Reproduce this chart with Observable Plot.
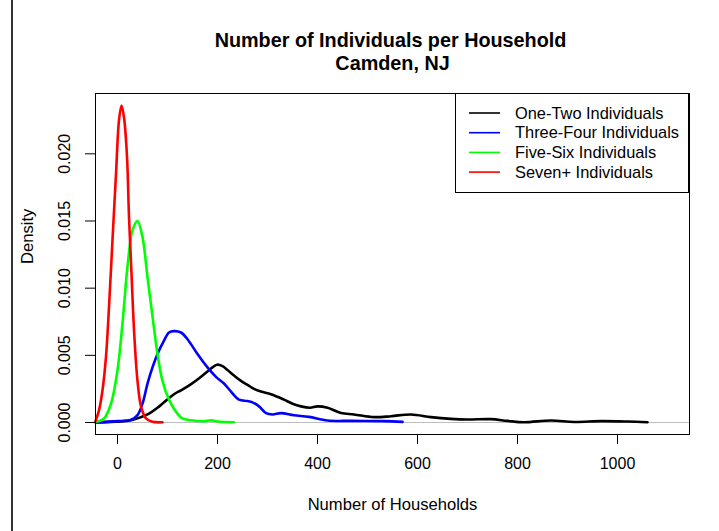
<!DOCTYPE html>
<html>
<head>
<meta charset="utf-8">
<script src="https://cdn.jsdelivr.net/npm/d3@7"></script>
<script src="https://cdn.jsdelivr.net/npm/@observablehq/plot@0.6"></script>
<style>
  html, body { margin: 0; padding: 0; background: #fff; }
  #wrap { position: relative; width: 719px; height: 531px; overflow: hidden; }
  #edge { position: absolute; left: 11px; top: 0; width: 2px; height: 531px; background: #333; }
</style>
</head>
<body>
<div id="wrap"><div id="edge"></div></div>
<script>
// ---- data ----
const seriesNames = ["One-Two Individuals", "Three-Four Individuals", "Five-Six Individuals", "Seven+ Individuals"];
const seriesColors = ["#000000", "#0000ff", "#00ff00", "#ff0000"];

const oneTwoX = [-44, -13, 13, 27, 47, 60, 80, 93, 113, 127, 145, 160, 180, 199, 210, 220, 233, 247, 260, 273, 287, 307, 333, 350, 367, 385, 400, 420, 447, 473, 513, 547, 587, 627, 667, 700, 747, 780, 813, 867, 913, 967, 1020, 1060];
const oneTwoY = [0, 0.00005, 0.0001, 0.00017, 0.0004, 0.0006, 0.0011, 0.0015, 0.0021, 0.0024, 0.0028, 0.0032, 0.0038, 0.0043, 0.0042, 0.0039, 0.0035, 0.0031, 0.0028, 0.0025, 0.0023, 0.0021, 0.0017, 0.0014, 0.0012, 0.0011, 0.0012, 0.0011, 0.0007, 0.0006, 0.0004, 0.00047, 0.0006, 0.0004, 0.00027, 0.00022, 0.00025, 0.00012, 0.00002, 0.00015, 0.00004, 0.0001, 0.00007, 0.00002];

const threeFourX = [-40, 0, 27, 40, 50, 60, 70, 80, 93, 103, 113, 127, 140, 160, 180, 197, 213, 227, 243, 260, 270, 283, 297, 310, 327, 353, 383, 420, 467, 533, 570];
const threeFourY = [0, 0.0001, 0.0002, 0.00055, 0.0014, 0.0029, 0.0041, 0.0051, 0.0061, 0.0067, 0.0068, 0.0067, 0.0062, 0.0051, 0.0041, 0.0034, 0.0029, 0.0023, 0.0017, 0.0016, 0.0015, 0.0012, 0.0007, 0.0006, 0.0007, 0.00054, 0.00042, 0.00015, 0.00012, 0.0001, 0.00005];

const fiveSixX = [-44, -27, -13, 0, 10, 20, 30, 40, 50, 60, 70, 80, 90, 103, 117, 130, 147, 173, 187, 200, 233];
const fiveSixY = [0.00005, 0.0003, 0.0014, 0.0039, 0.0074, 0.0116, 0.0143, 0.0150, 0.0138, 0.0108, 0.0079, 0.0051, 0.0031, 0.0017, 0.0008, 0.0003, 0.00017, 0.0001, 0.00017, 0.00007, 0.00002];

const sevenX = [-44, -37, -30, -23, -17, -10, -3, 3, 8, 13, 19, 23, 28, 33, 40, 47, 57, 70, 90];
const sevenY = [0.0001, 0.0009, 0.0024, 0.0049, 0.0086, 0.0136, 0.0185, 0.0225, 0.0236, 0.0227, 0.0198, 0.0153, 0.0111, 0.0069, 0.0031, 0.0012, 0.0003, 0.00005, 0.00002];

const xTicks = [0, 200, 400, 600, 800, 1000];
const yTicks = [0, 0.005, 0.010, 0.015, 0.020];
const yTickLabels = ["0.000", "0.005", "0.010", "0.015", "0.020"];
const titleLines = ["Number of Individuals per Household", "Camden, NJ"];
const xLabel = "Number of Households";
const yLabel = "Density";

// ---- build tables ----
const allX = [oneTwoX, threeFourX, fiveSixX, sevenX];
const allY = [oneTwoY, threeFourY, fiveSixY, sevenY];
const curves = allX.map((xs, i) => xs.map((x, j) => ({x, y: allY[i][j], s: seriesNames[i]})));

const font = "'Liberation Sans', Arial, Helvetica, sans-serif";

const chart = Plot.plot({
  width: 719,
  height: 531,
  marginTop: 93,
  marginRight: 30,
  marginBottom: 97,
  marginLeft: 95,
  x: {domain: [-44, 1144]},
  y: {domain: [-0.000893, 0.02449]},
  style: {fontFamily: font, fontSize: "16px", color: "black", background: "white", overflow: "visible"},
  marks: [
    Plot.ruleY([0], {stroke: "#bebebe", strokeWidth: 1}),
    ...curves.map((c, i) => Plot.line(c, {x: "x", y: "y", stroke: seriesColors[i], strokeWidth: 2.6, curve: "catmull-rom"})),
    Plot.frame({stroke: "black", strokeWidth: 1}),
    Plot.axisX(xTicks, {tickSize: 10, tickPadding: 13, tickFormat: d => String(d), fontSize: 16, label: null, stroke: "black"}),
    Plot.axisY(yTicks, {tickSize: 10, tickFormat: () => "", label: null, stroke: "black"}),
    Plot.text(yTicks, {y: d => d, text: (d, i) => yTickLabels[i], frameAnchor: "left", dx: -31, rotate: -90, textAnchor: "middle", lineAnchor: "middle", fontSize: 16, fill: "black"}),
    Plot.text([xLabel], {frameAnchor: "bottom", dy: 70, lineAnchor: "middle", fontSize: 16.6, fill: "black"}),
    Plot.text([yLabel], {frameAnchor: "left", dx: -68, rotate: -90, lineAnchor: "middle", fontSize: 16.6, fill: "black"}),
    Plot.text([titleLines[0]], {frameAnchor: "top", dy: -53, dx: -2, lineAnchor: "middle", fontSize: 19.8, fontWeight: "bold", fill: "black"}),
    Plot.text([titleLines[1]], {frameAnchor: "top", dy: -30, lineAnchor: "middle", fontSize: 19.8, fontWeight: "bold", fill: "black"})
  ]
});

// ---- legend (top-right inside the plot region) ----
const svg = d3.select(chart);
const lg = svg.append("g").attr("font-family", font).attr("font-size", 16.4).attr("text-anchor", "start");
lg.append("rect").attr("x", 455.5).attr("y", 93.5).attr("width", 233).attr("height", 99)
  .attr("fill", "white").attr("stroke", "black").attr("stroke-width", 1);
seriesNames.forEach((name, i) => {
  const yy = 113 + i * 19.7;
  lg.append("line").attr("x1", 469).attr("x2", 500).attr("y1", yy).attr("y2", yy)
    .attr("stroke", seriesColors[i]).attr("stroke-width", 1.6);
  lg.append("text").attr("x", 515).attr("y", yy).attr("dy", "0.35em")
    .attr("text-anchor", "start").attr("fill", "black").text(name);
});

document.getElementById("wrap").appendChild(chart);
</script>
</body>
</html>
